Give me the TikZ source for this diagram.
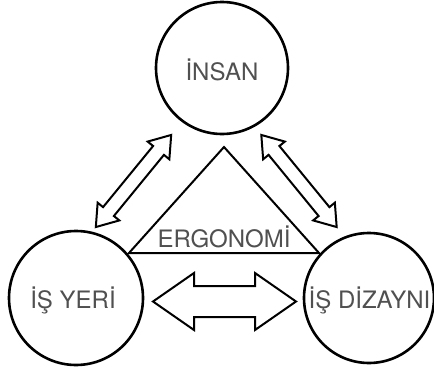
\documentclass[tikz,border=0pt]{standalone}
\usepackage{fontspec}
\setmainfont{TeX Gyre Heros}
\usepackage{tikz}
\definecolor{txtgray}{HTML}{505050}
\tikzstyle{circ} = [circle, draw, line width=2.6pt, minimum size=132pt, inner sep=0pt]
\tikzstyle{lbl} = [text=txtgray, font=\fontsize{24}{28}\selectfont, inner sep=0pt]
\tikzstyle{fat} = [draw, line width=2pt, line join=miter]
% hollow double arrow along x: #1 half length, #2 half shaft, #3 half head, #4 head length
\newcommand{\dblarrow}[4]{
	\draw[fat] (-#1,0) -- (-#1+#4,#3) -- (-#1+#4,#2) -- (#1-#4,#2) -- (#1-#4,#3) -- (#1,0)
		-- (#1-#4,-#3) -- (#1-#4,-#2) -- (-#1+#4,-#2) -- (-#1+#4,-#3) -- cycle;
}

\begin{document}
\begin{tikzpicture}[x=1pt,y=1pt]
			\useasboundingbox (0,0) rectangle (434,368);
			% three circles
			\node[circ] (insan) at (222,300) {};
			\node[circ, minimum size=134pt] (isyeri) at (76,70) {};
			\node[circ, minimum size=130pt] (isdizayni) at (369,70) {};
			\node[lbl] (insan-t) at (222,298) {İNSAN};
			\node[lbl] (isyeri-t) at (73,68) {İŞ YERİ};
			\node[lbl] (isdizayni-t) at (369.5,68) {İŞ DİZAYNI};
			% triangle
			\coordinate (tri-a) at (224,221);
			\coordinate (tri-b) at (129,115);
			\coordinate (tri-c) at (319,115);
			\draw[fat] (tri-a) -- (tri-b) -- (tri-c) -- cycle;
			\node[lbl, anchor=base] (ergo) at (224,121) {ERGONOMİ};
			% arrows
			\coordinate (arr-l) at (133.5,187);
			\coordinate (arr-r) at (299,187);
			\coordinate (arr-b) at (224.5,66.5);
			\begin{scope}[shift={(arr-l)}, rotate=50.7]
				\dblarrow{59.5}{7}{14}{20}
			\end{scope}
			\begin{scope}[shift={(arr-r)}, rotate=-50.7]
				\dblarrow{59.5}{7}{14}{20}
			\end{scope}
			\begin{scope}[shift={(arr-b)}]
				\dblarrow{71.5}{15.5}{28.5}{41}
			\end{scope}
		\end{tikzpicture}
\end{document}
